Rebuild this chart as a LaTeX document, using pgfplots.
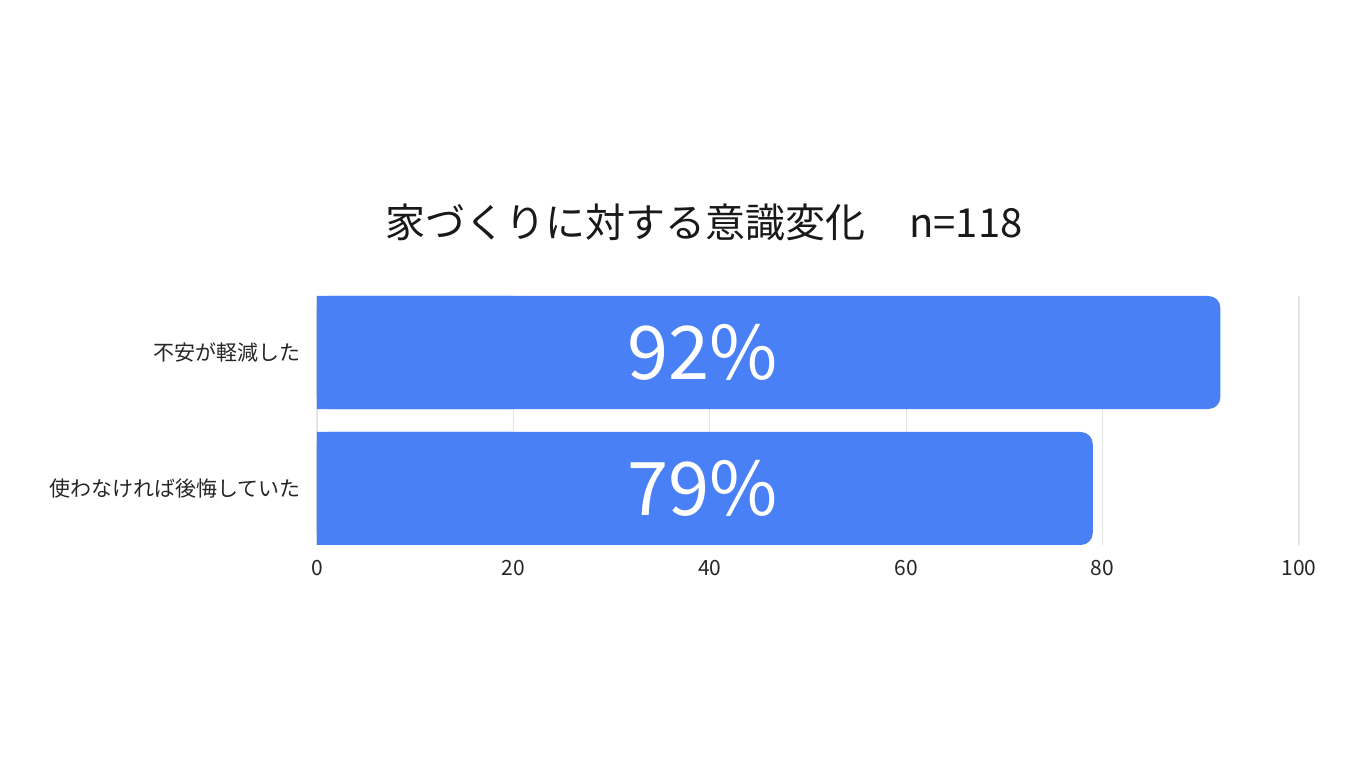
\documentclass[border=0pt]{standalone}
\usepackage{fontspec}
\setmainfont{Noto Sans CJK JP}
\usepackage{pgfplots}
\pgfplotsset{compat=1.18}
\definecolor{barblue}{RGB}{74,128,245}
\definecolor{gridgray}{RGB}{228,228,228}
\begin{document}
\begin{tikzpicture}
\begin{axis}[
    xbar,
    scale only axis,
    width=491pt, height=124.5pt,
    xmin=0, xmax=100,
    ymin=-0.4155, ymax=1.4155,
    bar width=0.831,
    bar shift=0pt,
    xtick={0,20,40,60,80,100},
    ytick={0,1},
    yticklabels={使わなければ後悔していた, 不安が軽減した},
    xmajorgrids=true,
    grid style={gridgray, line width=0.6pt},
    axis line style={draw=none},
    major tick length=0pt,
    tick label style={font=\fontsize{10.5}{12}\selectfont, text=black!85},
    /pgf/number format/assume math mode=true,
    xticklabel style={yshift=-4pt},
    yticklabel style={xshift=-4.5pt},
    clip=false,
]
\addplot[fill=barblue, draw=none, rounded corners=6pt] coordinates {(92,1) (79,0)};
\addplot[fill=barblue, draw=none] coordinates {(20,1) (20,0)};
\node[text=white, font=\fontsize{37}{40}\selectfont] at (axis cs:39.3,1) {92\%};
\node[text=white, font=\fontsize{37}{40}\selectfont] at (axis cs:39.3,0) {79\%};
\node[font=\fontsize{20}{24}\selectfont, text=black!90] at (axis description cs:0.394,1) [yshift=37pt] {家づくりに対する意識変化\hspace{1.1em}n=118};
\end{axis}
\path[use as bounding box] ([shift={(-158.5pt,-110pt)}]current axis.south west) rectangle ([shift={(30.5pt,148pt)}]current axis.north east);
\end{tikzpicture}
\end{document}
